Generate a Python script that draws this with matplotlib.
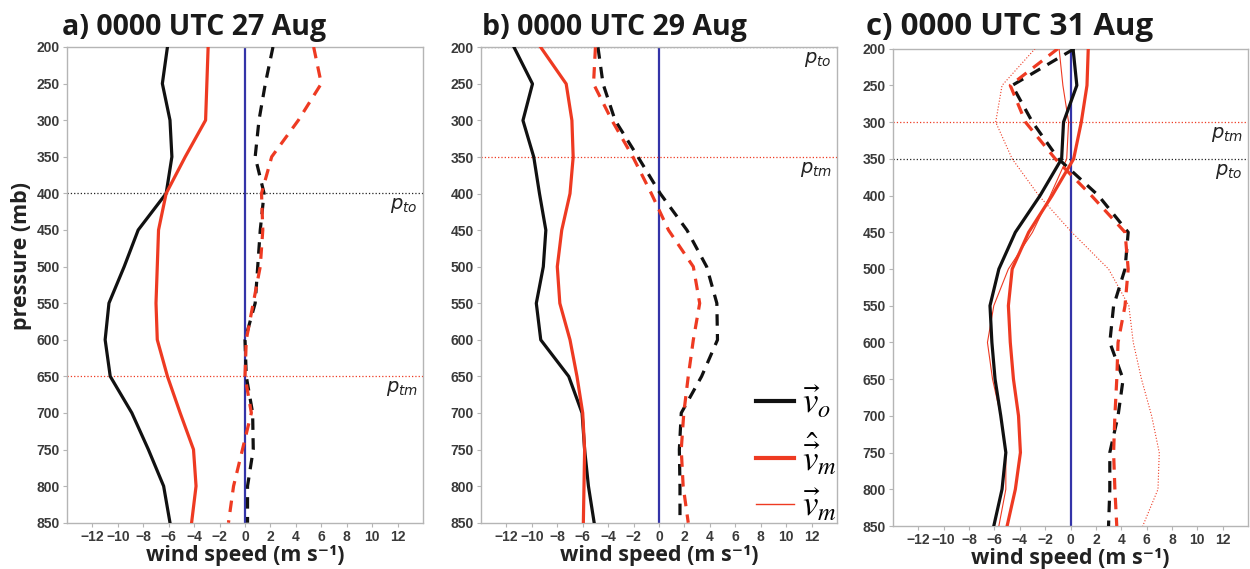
import numpy as np
import matplotlib
matplotlib.use("Agg")
import matplotlib.pyplot as plt
import matplotlib.transforms as mtransforms
from matplotlib.font_manager import FontProperties
from matplotlib.lines import Line2D

# pressure levels (mb)
pres = [200, 250, 300, 350, 400, 450, 500, 550, 600, 650, 700, 750, 800, 850]

# a) 0000 UTC 27 Aug
a_vo = [-6.1, -6.5, -5.9, -5.75, -6.2, -8.4, -9.5, -10.7, -11.0, -10.6, -8.9, -7.6, -6.4, -5.9]
a_vm = [-2.9, -3.0, -3.1, -4.7, -6.2, -6.8, -6.9, -7.0, -6.9, -6.1, -5.1, -4.05, -3.85, -4.2]
a_vo_d = [2.2, 1.6, 1.1, 0.8, 1.5, 1.2, 1.0, 0.8, 0.0, 0.1, 0.6, 0.65, 0.2, 0.2]
a_vm_d = [5.4, 6.0, 4.2, 2.1, 1.3, 1.4, 1.2, 0.65, 0.1, 0.0, 0.5, -0.2, -0.9, -1.3]

# b) 0000 UTC 29 Aug
b_vo = [-11.4, -9.95, -10.7, -9.85, -9.4, -8.9, -9.1, -9.65, -9.3, -7.1, -6.05, -5.85, -5.55, -5.1]
b_vm = [-9.3, -7.3, -6.85, -6.75, -7.0, -7.65, -8.0, -7.8, -7.0, -6.45, -6.0, -5.85, -5.9, -5.95]
b_vo_d = [-4.8, -4.4, -3.45, -1.65, 0.1, 2.2, 3.75, 4.55, 4.6, 3.35, 1.75, 1.6, 1.65, 1.65]
b_vm_d = [-5.0, -5.15, -3.7, -2.05, -0.6, 0.75, 2.7, 3.2, 2.7, 2.3, 1.95, 1.75, 1.9, 2.3]

# c) 0000 UTC 31 Aug
c_vo = [0.2, 0.5, -0.55, -0.7, -2.4, -4.35, -5.65, -6.35, -6.2, -5.95, -5.5, -5.1, -5.4, -6.05]
c_vm = [1.4, 1.3, 0.85, 0.25, -1.45, -3.3, -4.6, -4.9, -4.75, -4.5, -4.1, -3.95, -4.35, -5.0]
c_vm_thin = [-0.9, -0.6, -0.15, -0.3, -1.6, -3.0, -4.9, -6.05, -6.55, -6.15, -5.5, -5.1, -5.1, -5.65]
c_vo_d = [0.3, -4.6, -3.0, -0.95, 2.2, 4.55, 4.3, 3.4, 3.1, 4.15, 3.75, 3.1, 3.1, 3.0]
c_vm_d = [-1.0, -4.75, -3.55, -1.2, 1.65, 4.3, 4.55, 4.3, 3.75, 3.65, 3.5, 3.4, 3.5, 3.65]
c_vm_thin_d = [-2.8, -5.4, -5.9, -4.6, -2.5, 0.1, 3.0, 4.6, 4.95, 5.6, 6.4, 7.0, 6.9, 5.7]

titles = ["a) 0000 UTC 27 Aug", "b) 0000 UTC 29 Aug", "c) 0000 UTC 31 Aug"]
p_to = [400, 200, 350]
p_tm = [650, 350, 300]

BLACK = "#111111"
RED = "#ee3a22"
BLUE = "#3434a8"
TICKC = "#3a3a3a"

fig = plt.figure(figsize=(12.5, 5.69), dpi=100)
W, H = 1250, 569
boxes = [(67, 47, 423, 522.7), (481, 47.3, 837, 522.7), (893, 48.7, 1248, 526)]
title_x = [62, 482, 866]
title_size = [20.5, 20.5, 22.5]

axes = []
for (l, t, r, b) in boxes:
    axes.append(fig.add_axes([l / W, 1 - b / H, (r - l) / W, (b - t) / H]))

data = [
    [(a_vo, BLACK, 2.3, "-"), (a_vm, RED, 2.3, "-"),
     (a_vo_d, BLACK, 2.3, "--"), (a_vm_d, RED, 2.3, "--")],
    [(b_vo, BLACK, 2.3, "-"), (b_vm, RED, 2.3, "-"),
     (b_vo_d, BLACK, 2.3, "--"), (b_vm_d, RED, 2.3, "--")],
    [(c_vm_thin, RED, 0.8, "-"), (c_vm_thin_d, RED, 0.8, ":"),
     (c_vo, BLACK, 2.3, "-"), (c_vm, RED, 2.3, "-"),
     (c_vo_d, BLACK, 2.3, "--"), (c_vm_d, RED, 2.3, "--")],
]

for i, ax in enumerate(axes):
    ax.axvline(0, color=BLUE, lw=1.6, zorder=1)
    for vals, col, lw, ls in data[i]:
        if ls == "--":
            ax.plot(vals, pres, color=col, lw=lw, dashes=(3.6, 2.6), zorder=3)
        else:
            ax.plot(vals, pres, color=col, lw=lw, ls=ls, zorder=3)
    ax.axhline(p_to[i], color="#222222", lw=0.9, ls=":", zorder=2)
    ax.axhline(p_tm[i], color=RED, lw=0.9, ls=":", zorder=2)
    trans = mtransforms.blended_transform_factory(ax.transAxes, ax.transData)
    for p, lab in [(p_to[i], r"$p_{to}$"), (p_tm[i], r"$p_{tm}$")]:
        ax.text(0.985, p + 4, lab, transform=trans, ha="right", va="top",
                fontsize=14, color="#222222")

    ax.set_xlim(-14, 14)
    ax.set_ylim(850, 200)
    ax.set_xticks(np.arange(-12, 13, 2))
    ax.set_yticks(np.arange(200, 851, 50))
    for s in ax.spines.values():
        s.set_color("#b5b5b5")
        s.set_linewidth(1.0)
    ax.tick_params(colors="#b5b5b5", length=3, width=0.8, labelcolor=TICKC, pad=2)
    for lab in ax.get_xticklabels() + ax.get_yticklabels():
        lab.set_fontfamily("Liberation Sans")
        lab.set_fontweight("bold")
        lab.set_fontsize(10)
    ax.set_xlabel("wind speed (m s⁻¹)", fontsize=15.5, fontweight="bold",
                  family=["Open Sans", "DejaVu Sans"], color="#222222", labelpad=1)
    fig.text(title_x[i] / W, 1 - 35 / H, titles[i], fontsize=title_size[i],
             fontweight="bold", family="Open Sans", color="#1a1a1a",
             va="baseline", ha="left")

fig.text(22 / W, 1 - 256 / H, "pressure (mb)", rotation=90, fontsize=15.5,
         fontweight="bold", family="Open Sans", color="#222222",
         ha="center", va="center")

handles = [Line2D([], [], color=BLACK, lw=3),
           Line2D([], [], color=RED, lw=3),
           Line2D([], [], color=RED, lw=1.0)]
labels = [r"$\vec{v}_o$", r"$\hat{\vec{v}}_m$", r"$\vec{v}_m$"]
leg_font = FontProperties(size=25)
leg_font.set_math_fontfamily("stix")
axes[1].legend(handles, labels, loc="lower right", bbox_to_anchor=(1.06, -0.045),
               frameon=False, prop=leg_font, handlelength=1.1,
               handletextpad=0.25, labelspacing=0.28, borderaxespad=0.2)

fig.savefig("out.png", dpi=100)
